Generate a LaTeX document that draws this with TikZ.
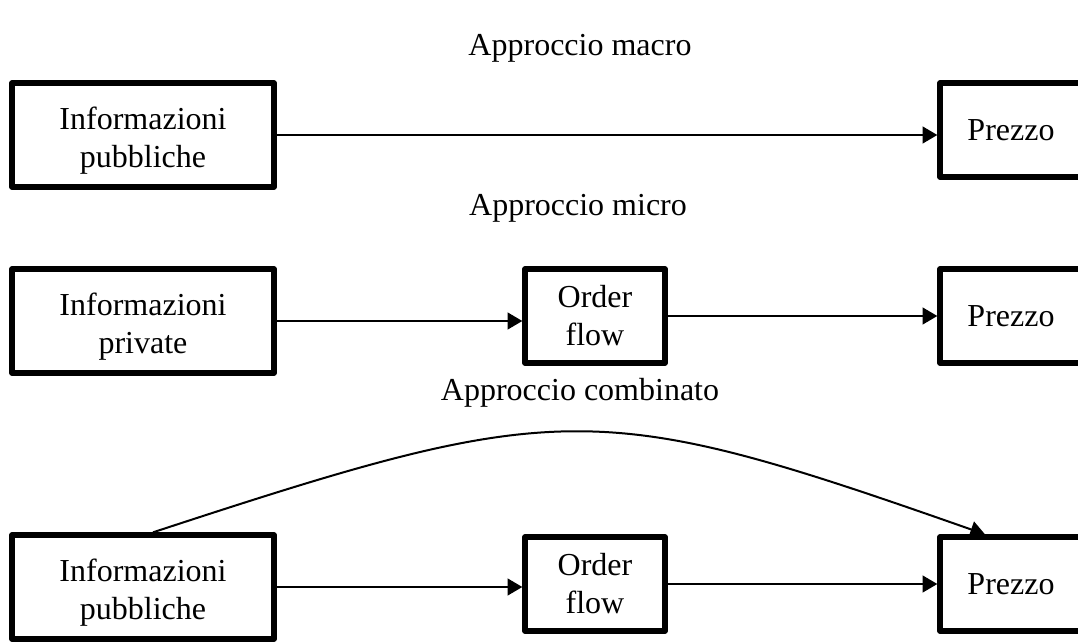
\documentclass[tikz,border=0pt]{standalone}
\usepackage{fontspec}
\setmainfont{Liberation Serif}
\usetikzlibrary{arrows.meta,calc}
\newcommand{\toplift}{\rule{0pt}{26pt}}
\begin{document}
\begin{tikzpicture}[x=0.75pt,y=-0.75pt,
  box/.style={draw, line width=4pt, line join=round, inner sep=0pt, align=center,
    font=\fontsize{24}{28.5}\selectfont},
  bigbox/.style={box, minimum width=196.5pt, minimum height=78pt},
  smallbox/.style={box, minimum width=105pt, minimum height=70.5pt},
  pbox/.style={box, minimum width=106.5pt, minimum height=70.5pt},
  lbl/.style={inner sep=0pt, font=\fontsize{24}{28.5}\selectfont},
  arr/.style={line width=1.5pt, -{Triangle[length=11pt,width=12.5pt]}}]
\useasboundingbox (0,0) rectangle (1078,642);

% titles
\node[lbl] (t1) at (580,48) {Approccio macro};
\node[lbl] (t2) at (578,208) {Approccio micro};
\node[lbl] (t3) at (580,393) {Approccio combinato};

% row 1
\node[bigbox] (L1) at (143,135) {\toplift Informazioni\\pubbliche};
\node[pbox] (P1) at (1011,130) {Prezzo};
\draw[arr] (L1.east) -- (L1.east -| P1.west);

% row 2
\node[bigbox] (L2) at (143,321) {\toplift Informazioni\\private};
\node[smallbox] (O2) at (595,316) {Order\\flow};
\node[pbox] (P2) at (1011,316) {Prezzo};
\draw[arr] (L2.east) -- (L2.east -| O2.west);
\draw[arr] (O2.east) -- (O2.east -| P2.west);

% row 3
\node[bigbox] (L3) at (143,587) {\toplift Informazioni\\pubbliche};
\node[smallbox] (O3) at (595,584) {Order\\flow};
\node[pbox] (P3) at (1011,584) {Prezzo};
\draw[arr] (L3.east) -- (L3.east -| O3.west);
\draw[arr] (O3.east) -- (O3.east -| P3.west);
\draw[arr] ([xshift=7.5pt]L3.north) .. controls (562,398) and (597,398) .. ([xshift=-19.5pt]P3.north);
\end{tikzpicture}
\end{document}
